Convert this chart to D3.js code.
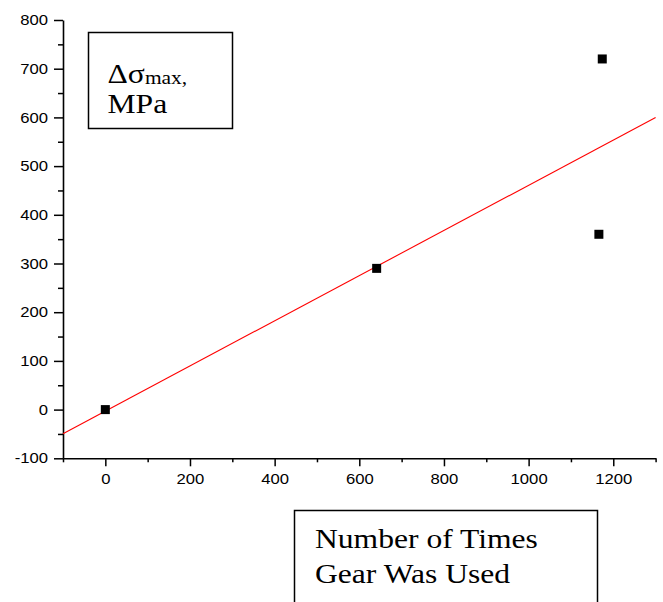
<!DOCTYPE html>
<html>
<head>
<meta charset="utf-8">
<script src="https://cdn.jsdelivr.net/npm/d3@7"></script>
<style>
  html, body { margin: 0; padding: 0; background: #fff; }
  svg { display: block; }
</style>
</head>
<body>
<svg id="chart" width="663" height="602"></svg>
<script>
// Measured stress range vs. number of times the gear was used
const timesUsed   = [0, 641, 1174, 1166];
const stressRange = [0, 290, 720, 360];

const xTicks      = [0, 200, 400, 600, 800, 1000, 1200];
const xMinorTicks = [-100, 100, 300, 500, 700, 900, 1100, 1300];
const yTicks      = [-100, 0, 100, 200, 300, 400, 500, 600, 700, 800];
const yMinorTicks = [-50, 50, 150, 250, 350, 450, 550, 650, 750];

const xDomain = [-100, 1300];
const yDomain = [-100, 800];

const svg = d3.select("#chart");

const x = d3.scaleLinear().domain(xDomain).range([63, 655.6]);
const y = d3.scaleLinear().domain(yDomain).range([458.3, 20]);

const sansFont = "'Liberation Sans', Arial, sans-serif";
const serifFont = "'Liberation Serif', 'Times New Roman', serif";
const stretch = 1.15;
const plain = d => String(d);   // ASCII hyphen, no thousands separator

// Least-squares linear fit through the points
const n = timesUsed.length;
const mx = d3.mean(timesUsed), my = d3.mean(stressRange);
let sxy = 0, sxx = 0;
for (let i = 0; i < n; i++) {
  sxy += (timesUsed[i] - mx) * (stressRange[i] - my);
  sxx += (timesUsed[i] - mx) ** 2;
}
const slope = sxy / sxx;
const intercept = my - slope * mx;
const fitPoints = xDomain.map(v => [v, intercept + slope * v]);

// Axes: major ticks with labels
const xAxis = svg.append("g")
  .attr("transform", `translate(0,${y(-100)})`)
  .call(d3.axisBottom(x).tickValues(xTicks).tickFormat(plain)
    .tickSize(8).tickPadding(7).tickSizeOuter(0));
const yAxis = svg.append("g")
  .attr("transform", `translate(${x(-100)},0)`)
  .call(d3.axisLeft(y).tickValues(yTicks).tickFormat(plain)
    .tickSize(9).tickPadding(6).tickSizeOuter(0));

// Minor ticks
svg.append("g")
  .attr("transform", `translate(0,${y(-100)})`)
  .call(d3.axisBottom(x).tickValues(xMinorTicks).tickSize(4).tickFormat("").tickSizeOuter(0))
  .select(".domain").remove();
svg.append("g")
  .attr("transform", `translate(${x(-100)},0)`)
  .call(d3.axisLeft(y).tickValues(yMinorTicks).tickSize(5).tickFormat("").tickSizeOuter(0))
  .select(".domain").remove();

svg.selectAll(".domain").attr("stroke", "#000").attr("stroke-width", 1.6);
svg.selectAll(".tick line").attr("stroke", "#000").attr("stroke-width", 1.5);

xAxis.selectAll("text")
  .attr("font-family", sansFont).attr("font-size", 14.5).attr("fill", "#000")
  .attr("transform", `scale(${stretch},1)`);
yAxis.selectAll("text")
  .attr("font-family", sansFont).attr("font-size", 14.5).attr("fill", "#000")
  .attr("x", -15 / stretch)
  .attr("transform", `scale(${stretch},1)`);

// Fit line
svg.append("path")
  .datum(fitPoints)
  .attr("fill", "none")
  .attr("stroke", "#ff0000")
  .attr("stroke-width", 1.1)
  .attr("d", d3.line().x(d => x(d[0])).y(d => y(d[1])));

// Data points
const sq = 9;
svg.append("g").selectAll("rect")
  .data(timesUsed.map((t, i) => [t, stressRange[i]]))
  .join("rect")
  .attr("x", d => x(d[0]) - sq / 2)
  .attr("y", d => y(d[1]) - sq / 2)
  .attr("width", sq)
  .attr("height", sq)
  .attr("fill", "#000");

// Y label box
svg.append("rect")
  .attr("x", 88.5).attr("y", 32.5).attr("width", 144).attr("height", 96)
  .attr("fill", "none").attr("stroke", "#000").attr("stroke-width", 1.5);
const yLab = svg.append("g")
  .attr("transform", `translate(107.5,0) scale(1.13,1)`)
  .attr("font-family", serifFont).attr("fill", "#000");
const yl1 = yLab.append("text").attr("x", 0).attr("y", 83.5).attr("font-size", 28);
yl1.append("tspan").text("Δσ");
yl1.append("tspan").attr("font-size", 19).attr("dy", 1).text("max,");
yLab.append("text").attr("x", 0).attr("y", 113).attr("font-size", 28).text("MPa");

// X label box (runs past the bottom edge)
svg.append("path")
  .attr("d", "M294.5,612V510.5H597.5V612")
  .attr("fill", "none").attr("stroke", "#000").attr("stroke-width", 1.5);
const xLab = svg.append("g")
  .attr("transform", `translate(315,0) scale(1.17,1)`)
  .attr("font-family", serifFont).attr("fill", "#000").attr("font-size", 27);
xLab.append("text").attr("x", 0).attr("y", 548).text("Number of Times");
xLab.append("text").attr("x", 0).attr("y", 583).text("Gear Was Used");
</script>
</body>
</html>
